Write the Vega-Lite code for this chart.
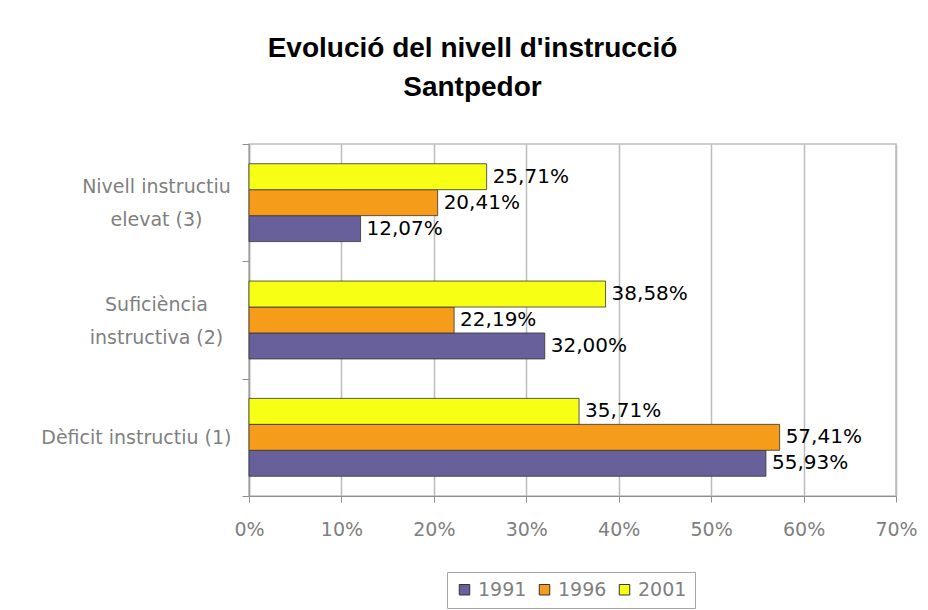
{
  "$schema": "https://vega.github.io/schema/vega-lite/v6.json",
  "width": 647,
  "height": 352,
  "autosize": {"type": "none"},
  "padding": {"left": 249, "top": 144, "right": 32, "bottom": 114},
  "background": "white",
  "config": {
    "locale": {"number": {"decimal": ",", "thousands": ".", "grouping": [3], "currency": ["", " €"]}},
    "view": {"stroke": "#bdbdbd", "strokeWidth": 1.5},
    "font": "DejaVu Sans"
  },
  "title": {
    "text": ["Evolució del nivell d'instrucció", "Santpedor"],
    "font": "Liberation Sans",
    "fontSize": 28,
    "fontWeight": "bold",
    "color": "black",
    "anchor": "middle",
    "dx": -100,
    "offset": 33,
    "lineHeight": 39
  },
  "data": {
    "values": [
      {"level": "Nivell instructiu|elevat (3)", "year": "1991", "pct": 0.1207},
      {"level": "Nivell instructiu|elevat (3)", "year": "1996", "pct": 0.2041},
      {"level": "Nivell instructiu|elevat (3)", "year": "2001", "pct": 0.2571},
      {"level": "Suficiència|instructiva (2)", "year": "1991", "pct": 0.3200},
      {"level": "Suficiència|instructiva (2)", "year": "1996", "pct": 0.2219},
      {"level": "Suficiència|instructiva (2)", "year": "2001", "pct": 0.3858},
      {"level": "Dèficit instructiu (1)", "year": "1991", "pct": 0.5593},
      {"level": "Dèficit instructiu (1)", "year": "1996", "pct": 0.5741},
      {"level": "Dèficit instructiu (1)", "year": "2001", "pct": 0.3571}
    ]
  },
  "encoding": {
    "y": {
      "field": "level",
      "type": "nominal",
      "sort": ["Nivell instructiu|elevat (3)", "Suficiència|instructiva (2)", "Dèficit instructiu (1)"],
      "scale": {"paddingInner": 0, "paddingOuter": 0},
      "axis": {
        "title": null,
        "grid": false,
        "tickBand": "extent",
        "domainColor": "#a0a0a0",
        "domainWidth": 1.5,
        "tickColor": "#909090",
        "tickSize": 7,
        "labelFont": "DejaVu Sans",
        "labelFontSize": 19,
        "labelColor": "#808080",
        "labelExpr": "split(datum.label, '|')",
        "labelLineHeight": 33,
        "labelBaseline": "middle",
        "labelLimit": 0,
        "labelAlign": {"condition": {"test": "datum.value == 'Dèficit instructiu (1)'", "value": "right"}, "value": "center"},
        "labelPadding": {"condition": {"test": "datum.value == 'Dèficit instructiu (1)'", "value": 11}, "value": 86},
        "labelOffset": {"condition": {"test": "datum.value == 'Dèficit instructiu (1)'", "value": 0}, "value": -16}
      }
    },
    "yOffset": {
      "field": "year",
      "type": "nominal",
      "sort": ["2001", "1996", "1991"],
      "scale": {"paddingInner": 0, "paddingOuter": 0.76}
    },
    "x": {
      "field": "pct",
      "type": "quantitative",
      "scale": {"domain": [0, 0.7], "nice": false},
      "axis": {
        "title": null,
        "values": [0, 0.1, 0.2, 0.3, 0.4, 0.5, 0.6, 0.7],
        "format": ".0%",
        "grid": true,
        "gridColor": "#bdbdbd",
        "gridWidth": 1.5,
        "domainColor": "#909090",
        "tickColor": "#909090",
        "tickSize": 6,
        "labelFont": "DejaVu Sans",
        "labelFontSize": 19,
        "labelColor": "#808080",
        "labelPadding": 18,
        "labelFlush": false
      }
    }
  },
  "layer": [
    {
      "mark": {"type": "bar", "stroke": "#333333", "strokeWidth": 0.8},
      "encoding": {
        "color": {
          "field": "year",
          "type": "nominal",
          "scale": {"domain": ["1991", "1996", "2001"], "range": ["#67609a", "#f59c1a", "#f7ff15"]},
          "legend": {
            "title": null,
            "orient": "none",
            "legendX": 198,
            "legendY": 428,
            "direction": "horizontal",
            "symbolType": "square",
            "symbolSize": 110,
            "symbolStrokeColor": "#333333",
            "symbolStrokeWidth": 1,
            "labelFont": "DejaVu Sans",
            "labelFontSize": 19,
            "labelColor": "#808080",
            "strokeColor": "#a6a6a6",
            "padding": 8,
            "columnPadding": 8,
            "labelOffset": 4
          }
        }
      }
    },
    {
      "mark": {"type": "text", "align": "left", "baseline": "middle", "dx": 6, "fontSize": 20, "font": "DejaVu Sans", "color": "black"},
      "encoding": {
        "text": {"field": "pct", "type": "quantitative", "format": ".2%"}
      }
    }
  ]
}
